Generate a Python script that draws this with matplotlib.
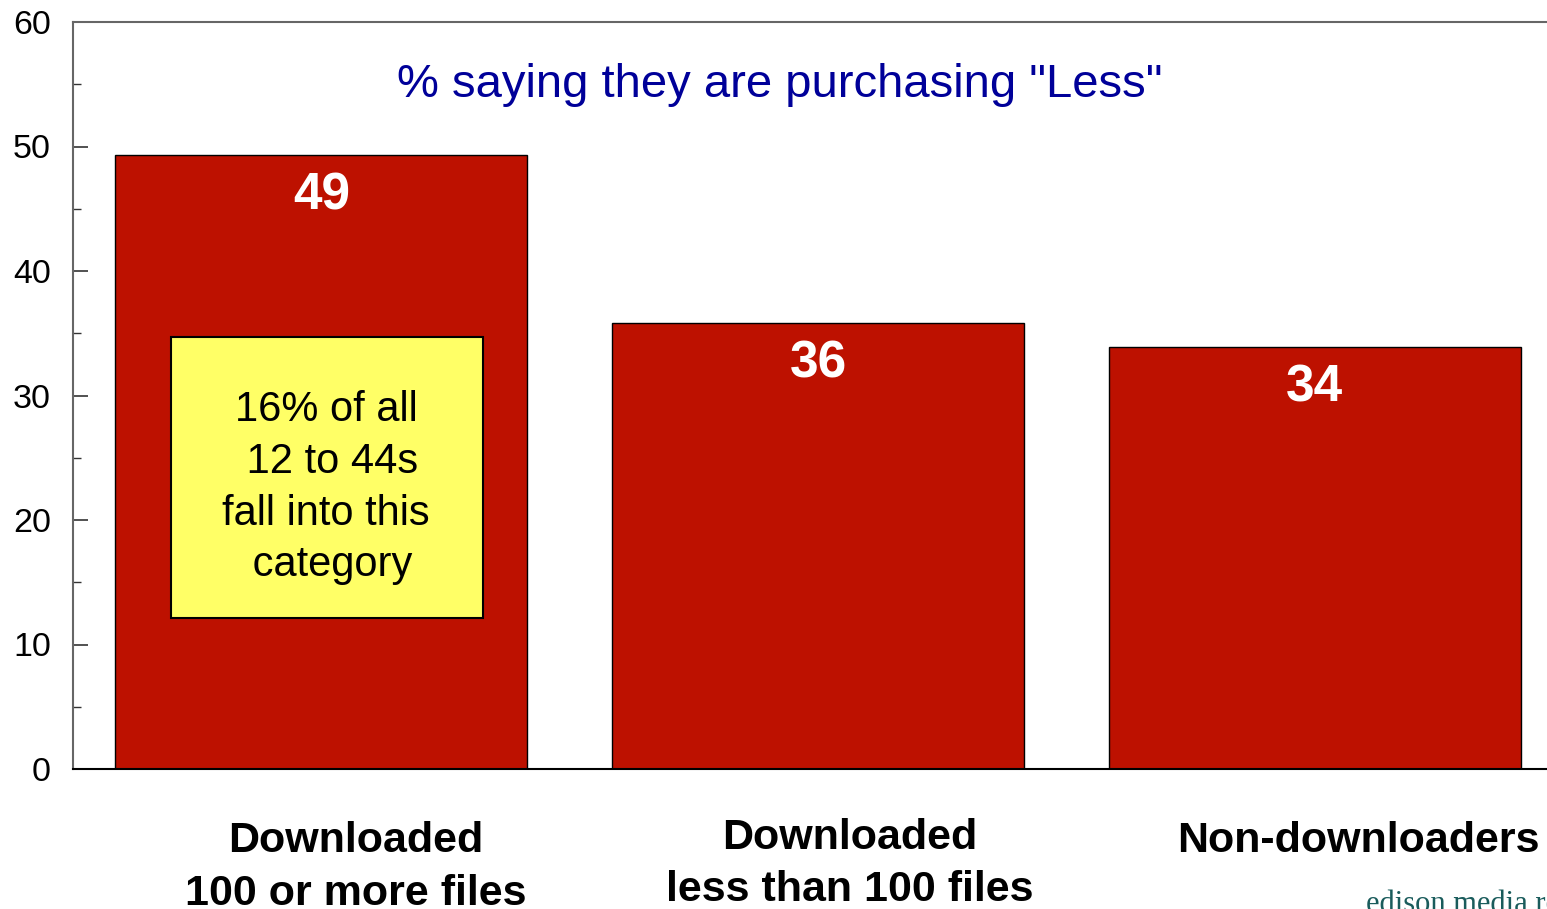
import matplotlib.pyplot as plt
from matplotlib.patches import Rectangle
from matplotlib.ticker import MultipleLocator

plt.rcParams['font.family'] = ['Liberation Sans', 'DejaVu Sans']

categories = ['Downloaded\n100 or more files', 'Downloaded\nless than 100 files', 'Non-downloaders']
values = [49.3, 35.8, 33.9]
value_labels = ['49', '36', '34']
title = '% saying they are purchasing "Less"'
note = '16% of all\n 12 to 44s\nfall into this\n category'

bar_color = '#BD1100'

fig = plt.figure(figsize=(15.47, 9.09), dpi=100)
ax = fig.add_axes([73 / 1547, 1 - 769 / 909, (1563 - 73) / 1547, (769 - 22) / 909])

x = range(len(categories))
ax.bar(x, values, width=0.83, color=bar_color, edgecolor='black', linewidth=1.0, zorder=2)

ax.set_xlim(-0.5, 2.5)
ax.set_ylim(0, 60)
ax.yaxis.set_major_locator(MultipleLocator(10))
ax.yaxis.set_minor_locator(MultipleLocator(5))
ax.set_xticks(list(x))
ax.set_xticklabels([])
ax.tick_params(axis='y', which='major', direction='in', length=11, width=1.2,
               color='#333333', labelsize=24.5, pad=16)
ax.tick_params(axis='y', which='minor', direction='in', length=5.5, width=1.0, color='#333333')
ax.tick_params(axis='x', which='major', direction='in', length=12, width=1.2, color='black')

for side in ['left', 'top']:
    ax.spines[side].set_color('#666666')
    ax.spines[side].set_linewidth(1.5)
ax.spines['bottom'].set_color('black')
ax.spines['bottom'].set_linewidth(1.5)
ax.spines['right'].set_visible(False)

# value labels inside bars
for i, (v, lab) in enumerate(zip(values, value_labels)):
    ax.text(i, v - 3.3, lab, ha='center', va='center', color='white',
            fontsize=37, fontweight='bold', zorder=4)

# category labels below axis
offsets = [0.07, 0.063, 0.089]
ypos = [-0.070, -0.065, -0.070]
for i, (cat, off, yy) in enumerate(zip(categories, offsets, ypos)):
    ax.text(i + off, yy, cat, transform=ax.get_xaxis_transform(),
            ha='center', va='top', fontsize=31, fontweight='bold',
            linespacing=1.4, color='black')

ax.text(0.922, 54.9, title, ha='center', va='center', color='#000099', fontsize=34)

# yellow note box
ax.add_patch(Rectangle((-0.302, 12.1), 0.628, 22.6, facecolor='#FFFF66',
                       edgecolor='black', linewidth=1.5, zorder=3))
ax.text(0.01, 22.6, note, ha='center', va='center', fontsize=30,
        linespacing=1.38, color='black', zorder=4)

fig.text(1366 / 1547, 1 - 912 / 909, 'edison media research', ha='left', va='baseline',
         color='#1A5C5C', fontsize=22, family=['Liberation Serif', 'DejaVu Serif'])

fig.savefig('out.png', dpi=100)
